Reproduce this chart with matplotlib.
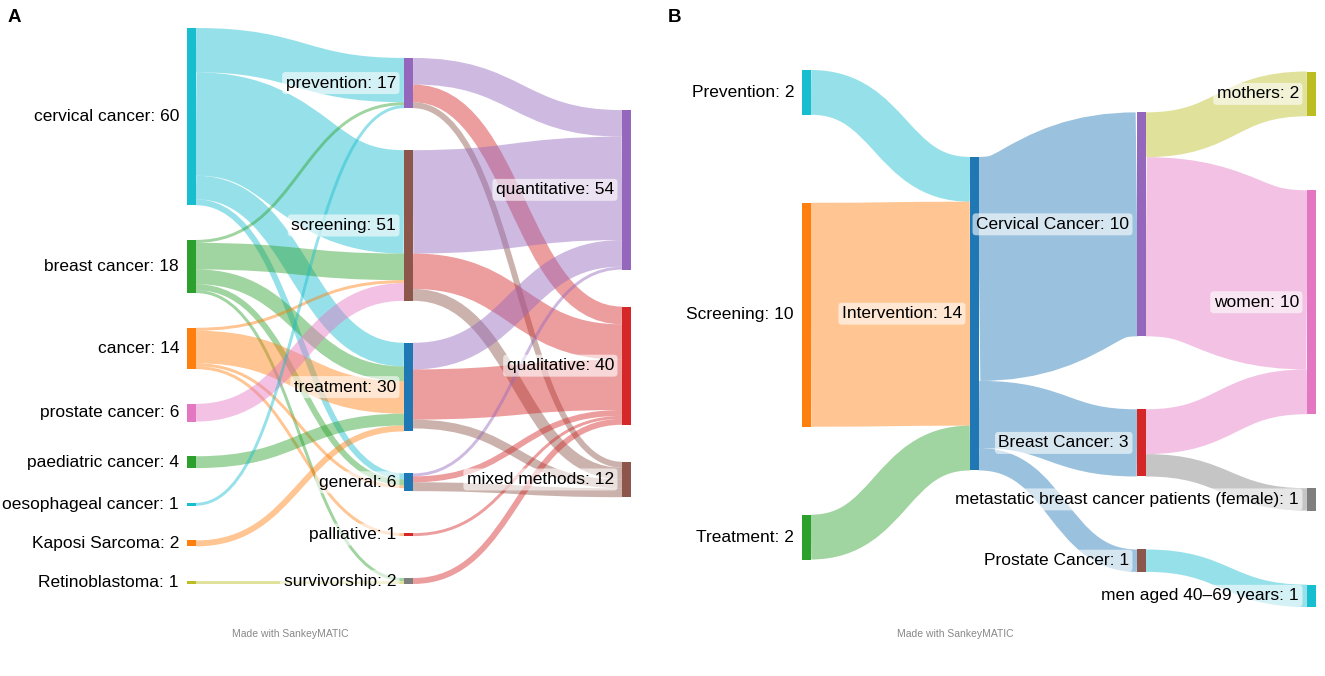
# sankey_purpose_methods.py
# Two Sankey panels (A: cancer type -> purpose -> method, B: purpose -> cancer -> population)
# Layout follows a d3-sankey style relaxation, drawn with plain matplotlib paths

import matplotlib.pyplot as plt
from matplotlib.path import Path
from matplotlib.patches import PathPatch, Rectangle

plt.rcParams['font.family'] = ['Liberation Sans', 'DejaVu Sans']

# -------------------------------
# Panel A data
# -------------------------------
a_cancers = ["cervical cancer", "breast cancer", "cancer", "prostate cancer",
             "paediatric cancer", "oesophageal cancer", "Kaposi Sarcoma", "Retinoblastoma"]
a_purposes = ["prevention", "screening", "treatment", "general", "palliative", "survivorship"]
a_methods = ["quantitative", "qualitative", "mixed methods"]

a_flows = [
    ("cervical cancer", "prevention", 15), ("cervical cancer", "screening", 35),
    ("cervical cancer", "treatment", 8), ("cervical cancer", "general", 2),
    ("breast cancer", "prevention", 1), ("breast cancer", "screening", 9),
    ("breast cancer", "treatment", 5), ("breast cancer", "general", 2),
    ("breast cancer", "survivorship", 1),
    ("cancer", "screening", 1), ("cancer", "treatment", 11),
    ("cancer", "general", 1), ("cancer", "palliative", 1),
    ("prostate cancer", "screening", 6),
    ("paediatric cancer", "treatment", 4),
    ("oesophageal cancer", "prevention", 1),
    ("Kaposi Sarcoma", "treatment", 2),
    ("Retinoblastoma", "survivorship", 1),
    ("prevention", "quantitative", 9), ("prevention", "qualitative", 6), ("prevention", "mixed methods", 2),
    ("screening", "quantitative", 35), ("screening", "qualitative", 12), ("screening", "mixed methods", 4),
    ("treatment", "quantitative", 9), ("treatment", "qualitative", 17), ("treatment", "mixed methods", 3),
    ("general", "quantitative", 1), ("general", "qualitative", 2), ("general", "mixed methods", 3),
    ("palliative", "qualitative", 1),
    ("survivorship", "qualitative", 2),
]

a_colors = {
    "cervical cancer": "#17becf", "breast cancer": "#2ca02c", "cancer": "#ff7f0e",
    "prostate cancer": "#e377c2", "paediatric cancer": "#2ca02c", "oesophageal cancer": "#17becf",
    "Kaposi Sarcoma": "#ff7f0e", "Retinoblastoma": "#bcbd22",
    "prevention": "#9467bd", "screening": "#8c564b", "treatment": "#1f77b4",
    "general": "#1f77b4", "palliative": "#d62728", "survivorship": "#7f7f7f",
    "quantitative": "#9467bd", "qualitative": "#d62728", "mixed methods": "#8c564b",
}

# -------------------------------
# Panel B data
# -------------------------------
b_purposes = ["Prevention", "Screening", "Treatment"]
b_type = ["Intervention"]
b_cancers = ["Cervical Cancer", "Breast Cancer", "Prostate Cancer"]
b_groups = ["mothers", "women", "metastatic breast cancer patients (female)", "men aged 40–69 years"]

b_flows = [
    ("Prevention", "Intervention", 2), ("Screening", "Intervention", 10), ("Treatment", "Intervention", 2),
    ("Intervention", "Cervical Cancer", 10), ("Intervention", "Breast Cancer", 3),
    ("Intervention", "Prostate Cancer", 1),
    ("Cervical Cancer", "mothers", 2), ("Cervical Cancer", "women", 8),
    ("Breast Cancer", "women", 2), ("Breast Cancer", "metastatic breast cancer patients (female)", 1),
    ("Prostate Cancer", "men aged 40–69 years", 1),
]

b_colors = {
    "Prevention": "#17becf", "Screening": "#ff7f0e", "Treatment": "#2ca02c",
    "Intervention": "#1f77b4",
    "Cervical Cancer": "#9467bd", "Breast Cancer": "#d62728", "Prostate Cancer": "#8c564b",
    "mothers": "#bcbd22", "women": "#e377c2",
    "metastatic breast cancer patients (female)": "#7f7f7f", "men aged 40–69 years": "#17becf",
}


# -------------------------------
# d3-sankey style layout (node order kept as given)
# pad sets the value scale (d3 rule), col_pads the spacing in each column,
# fan how much the outgoing links of a column are fanned out when aiming the next column
# -------------------------------
def sankey_layout(columns, flows, y_top, y_bot, pad, col_pads, fan, iterations=6):
    nodes = {}
    for layer, col in enumerate(columns):
        for name in col:
            nodes[name] = dict(name=name, layer=layer, src=[], tgt=[])
    links = []
    for s, t, v in flows:
        link = dict(source=s, target=t, value=v)
        links.append(link)
        nodes[s]["src"].append(link)
        nodes[t]["tgt"].append(link)
    for n in nodes.values():
        n["value"] = max(sum(l["value"] for l in n["src"]), sum(l["value"] for l in n["tgt"]))

    ky = min((y_bot - y_top - (len(col) - 1) * pad) / sum(nodes[m]["value"] for m in col)
             for col in columns)
    for l in links:
        l["width"] = l["value"] * ky

    def reorder():
        for n in nodes.values():
            n["src"].sort(key=lambda l: nodes[l["target"]]["y0"])
            n["tgt"].sort(key=lambda l: nodes[l["source"]]["y0"])

    for c, col in enumerate(columns):
        py = col_pads[c]
        y = y_top
        for name in col:
            n = nodes[name]
            n["y0"] = y
            n["y1"] = y + n["value"] * ky
            y = n["y1"] + py
        extra = (y_bot - y + py) / (len(col) + 1)
        for i, name in enumerate(col):
            nodes[name]["y0"] += extra * (i + 1)
            nodes[name]["y1"] += extra * (i + 1)
    reorder()

    def target_top(s, t):
        py = col_pads[s["layer"]] * fan[s["layer"]]
        y = s["y0"] - (len(s["src"]) - 1) * py / 2
        for l in s["src"]:
            if l["target"] == t["name"]:
                break
            y += l["width"] + py
        for l in t["tgt"]:
            if l["source"] == s["name"]:
                break
            y -= l["width"]
        return y

    def source_top(s, t):
        py = col_pads[t["layer"]]
        y = t["y0"] - (len(t["tgt"]) - 1) * py / 2
        for l in t["tgt"]:
            if l["source"] == s["name"]:
                break
            y += l["width"] + py
        for l in s["src"]:
            if l["target"] == t["name"]:
                break
            y -= l["width"]
        return y

    def resolve(c):
        # push overlapping nodes down, then back up if the last one leaves the area
        col = columns[c]
        py = col_pads[c]
        y = y_top
        for name in col:
            n = nodes[name]
            if y > n["y0"]:
                n["y1"] += y - n["y0"]
                n["y0"] = y
            y = n["y1"] + py
        if y - py > y_bot:
            y = y_bot
            for name in reversed(col):
                n = nodes[name]
                if n["y1"] > y:
                    n["y0"] -= n["y1"] - y
                    n["y1"] = y
                y = n["y0"] - py

    for it in range(iterations):
        alpha = 0.99 ** it
        # right to left
        for c in range(len(columns) - 2, -1, -1):
            for name in columns[c]:
                s = nodes[name]
                ysum = sum(source_top(s, nodes[l["target"]]) * l["value"] for l in s["src"])
                w = sum(l["value"] for l in s["src"])
                if w > 0:
                    dy = (ysum / w - s["y0"]) * alpha
                    s["y0"] += dy
                    s["y1"] += dy
                    reorder()
            resolve(c)
        # left to right
        for c in range(1, len(columns)):
            for name in columns[c]:
                t = nodes[name]
                ysum = sum(target_top(nodes[l["source"]], t) * l["value"] for l in t["tgt"])
                w = sum(l["value"] for l in t["tgt"])
                if w > 0:
                    dy = (ysum / w - t["y0"]) * alpha
                    t["y0"] += dy
                    t["y1"] += dy
                    reorder()
            resolve(c)

    reorder()
    for n in nodes.values():
        y = n["y0"]
        for l in n["src"]:
            l["ys"] = y + l["width"] / 2
            y += l["width"]
        y = n["y0"]
        for l in n["tgt"]:
            l["yt"] = y + l["width"] / 2
            y += l["width"]
    return nodes, links


def draw_sankey(ax, columns, flows, colors, col_x, y_top, y_bot, pad, col_pads, fan, node_w=9):
    nodes, links = sankey_layout(columns, flows, y_top, y_bot, pad, col_pads, fan)
    last = len(columns) - 1

    # flows first, "outside-in" colouring
    for l in links:
        s, t = nodes[l["source"]], nodes[l["target"]]
        if s["layer"] <= last - t["layer"]:
            c = colors[l["source"]]
        else:
            c = colors[l["target"]]
        x0 = col_x[s["layer"]] + node_w
        x1 = col_x[t["layer"]]
        xm = (x0 + x1) / 2
        path = Path([(x0, l["ys"]), (xm, l["ys"]), (xm, l["yt"]), (x1, l["yt"])],
                    [Path.MOVETO, Path.CURVE4, Path.CURVE4, Path.CURVE4])
        ax.add_patch(PathPatch(path, fill=False, edgecolor=c, alpha=0.45,
                               linewidth=l["width"] * 0.72, capstyle="butt"))

    # nodes
    for name, n in nodes.items():
        x = col_x[n["layer"]]
        ax.add_patch(Rectangle((x, n["y0"]), node_w, n["y1"] - n["y0"],
                               facecolor=colors[name], edgecolor="none"))

    # labels on the left of every node
    for name, n in nodes.items():
        x = col_x[n["layer"]]
        ax.text(x - 8, (n["y0"] + n["y1"]) / 2, f"{name}: {n['value']}",
                ha="right", va="center", fontsize=12.5, color="black",
                bbox=dict(boxstyle="round,pad=0.2", facecolor="white",
                          edgecolor="none", alpha=0.6))


fig = plt.figure(figsize=(13.25, 6.76), dpi=100)
ax = fig.add_axes([0, 0, 1, 1])
ax.set_xlim(0, 1325)
ax.set_ylim(676, 0)
ax.axis("off")

draw_sankey(ax, [a_cancers, a_purposes, a_methods], a_flows, a_colors,
            col_x=[187, 404, 622], y_top=28, y_bot=584,
            pad=34.7, col_pads=[34.7, 42, 37], fan=[0, 0.5, 0.5])
draw_sankey(ax, [b_purposes, b_type, b_cancers, b_groups], b_flows, b_colors,
            col_x=[802, 970, 1137, 1307], y_top=70, y_bot=607,
            pad=74.5, col_pads=[88, 88, 73, 74], fan=[0, 0.5, 0.5, 0.5])

ax.text(8, 18, "A", fontsize=13.5, fontweight="bold", va="center", ha="left")
ax.text(668, 18, "B", fontsize=13.5, fontweight="bold", va="center", ha="left")
ax.text(290, 634, "Made with SankeyMATIC", fontsize=7.5, color="#888888", ha="center", va="center")
ax.text(955, 634, "Made with SankeyMATIC", fontsize=7.5, color="#888888", ha="center", va="center")

fig.savefig("out.png", dpi=100)
